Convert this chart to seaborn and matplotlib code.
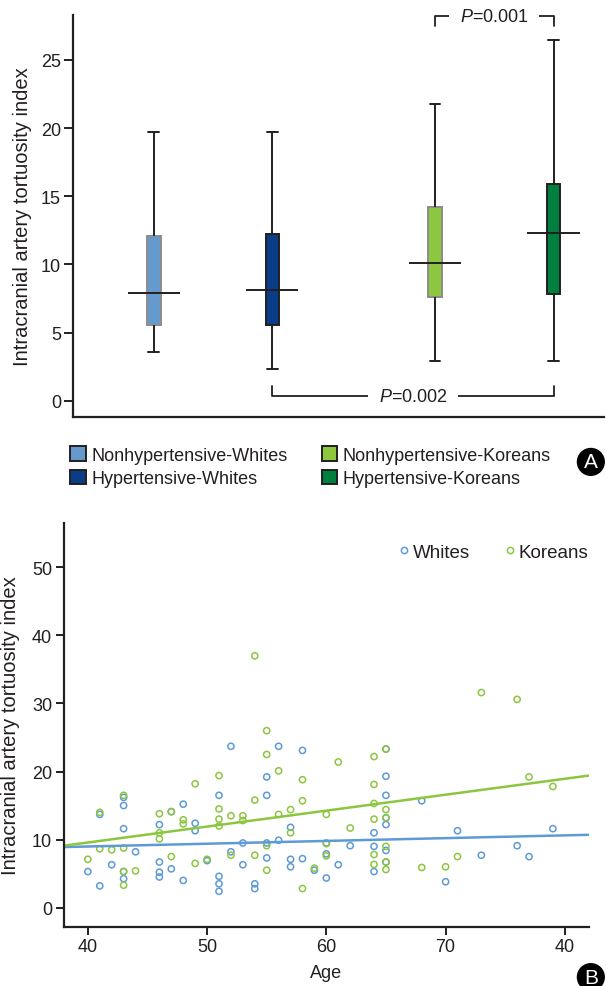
import matplotlib
matplotlib.use("Agg")
import pandas as pd
import seaborn as sns
import matplotlib.pyplot as plt
from matplotlib.patches import Patch
from matplotlib.lines import Line2D

sns.set_style("ticks")
plt.rcParams["font.family"] = ["Liberation Sans", "DejaVu Sans"]
plt.rcParams["mathtext.fontset"] = "custom"
plt.rcParams["mathtext.rm"] = "Liberation Sans"
plt.rcParams["mathtext.it"] = "Liberation Sans:italic"

INK = "#231f20"

# Panel A: box summaries (min, Q1, median, Q3, max)
GROUPS = ["Nonhypertensive-Whites", "Hypertensive-Whites",
          "Nonhypertensive-Koreans", "Hypertensive-Koreans"]
GROUP_POS = [0, 1, 2.37, 3.37]
box_min = [3.6, 2.3, 2.9, 2.9]
box_q1 = [5.55, 5.55, 7.6, 7.8]
box_med = [7.9, 8.1, 10.1, 12.3]
box_q3 = [12.1, 12.2, 14.2, 15.9]
box_max = [19.7, 19.7, 21.8, 26.5]
BOX_COLORS = ["#6699cc", "#0a3d87", "#8dc63f", "#00803e"]
BOX_EDGES = ["#8c8c8c", INK, "#8c8c8c", INK]

# Panel B: age vs tortuosity
whites_age = [40, 41, 41, 42, 43, 43, 43, 43, 43, 44, 46, 46, 46, 46, 47, 47,
              48, 48, 49, 49, 50, 51, 51, 51, 51, 52, 52, 53, 53, 54, 54,
              55, 55, 55, 55, 56, 56, 57, 57, 57, 58, 58, 59, 60, 60, 60,
              61, 62, 64, 64, 64, 65, 65, 65, 65, 65, 65, 65, 68, 70, 71,
              73, 76, 77, 79]
whites_val = [5.3, 13.7, 3.2, 6.3, 16.2, 15.0, 11.6, 5.3, 4.25, 8.2,
              12.2, 6.7, 5.2, 4.5, 14.1, 5.7, 15.2, 4.0, 12.4, 11.3, 6.9,
              16.5, 4.6, 3.5, 2.4, 23.7, 8.2, 9.5, 6.3, 3.5, 2.8,
              19.2, 16.5, 9.5, 7.3, 23.7, 9.9, 11.8, 7.1, 6.0, 23.1, 7.2,
              5.5, 9.5, 7.9, 4.35, 6.3, 9.1, 11.0, 9.0, 5.3,
              23.3, 19.3, 16.5, 13.2, 12.2, 8.4, 6.7, 15.7, 3.8, 11.3,
              7.7, 9.1, 7.5, 11.6]
koreans_age = [40, 41, 41, 42, 43, 43, 43, 43, 44, 46, 46, 46, 47, 47,
               48, 48, 49, 49, 50, 51, 51, 51, 51, 52, 52, 53, 53,
               54, 54, 54, 55, 55, 55, 55, 56, 56, 57, 57, 58, 58, 58, 59,
               60, 60, 60, 61, 62, 64, 64, 64, 64, 64, 64,
               65, 65, 65, 65, 65, 65, 68, 70, 71, 73, 76, 77, 79]
koreans_val = [7.1, 14.0, 8.65, 8.5, 16.5, 8.75, 5.3, 3.3, 5.4,
               13.8, 11.0, 10.1, 14.1, 7.5, 12.9, 12.3, 18.2, 6.5, 7.1,
               19.4, 14.5, 13.0, 12.0, 13.5, 7.7, 13.5, 12.8,
               37.0, 15.8, 7.7, 26.0, 22.5, 9.1, 5.5, 20.1, 13.7, 14.4, 11.0,
               18.8, 15.7, 2.8, 5.8, 13.7, 9.4, 7.6, 21.4, 11.7,
               22.2, 18.1, 15.3, 13.0, 7.8, 6.35,
               23.3, 14.4, 13.2, 9.0, 6.7, 5.6, 5.9, 6.0, 7.5, 31.6, 30.6,
               19.2, 17.8]
fit_age = [38, 82]
whites_fit = [8.9, 10.7]
koreans_fit = [9.1, 19.4]
RACES = ["Whites", "Koreans"]
RACE_COLORS = {"Whites": "#5e9ad6", "Koreans": "#8cc63f"}
AGE_TICKS = [40, 50, 60, 70, 80]
AGE_LABELS = ["40", "50", "60", "70", "40"]

FS = 13
LABEL_FS = 14.5
YLABEL = "Intracranial artery tortuosity index"

fig = plt.figure(figsize=(6.06, 9.87), dpi=100)

# ---------------- Panel A ----------------
ax1 = fig.add_axes([0.12, 0.5765, 0.877, 0.4073])
rows = []
for g, p, lo, q1, md, q3, hi in zip(GROUPS, GROUP_POS, box_min, box_q1,
                                     box_med, box_q3, box_max):
    for v in (lo, q1, md, q3, hi):
        rows.append({"group": g, "pos": p, "tortuosity": v})
box_df = pd.DataFrame(rows)

sns.boxplot(data=box_df, x="pos", y="tortuosity", hue="group",
            hue_order=GROUPS, palette=BOX_COLORS, saturation=1,
            native_scale=True, dodge=False, width=0.114, whis=(0, 100),
            showfliers=False, linecolor=INK, linewidth=1.4, legend=False,
            medianprops={"visible": False}, capwidths=0.09, ax=ax1)
for patch, ec in zip(ax1.patches, BOX_EDGES):
    patch.set_edgecolor(ec)
    patch.set_linewidth(1.4)
for p, md in zip(GROUP_POS, box_med):
    ax1.hlines(md, p - 0.22, p + 0.22, color=INK, lw=1.4, zorder=4)

ax1.set_xlim(-0.683, 3.797)
ax1.set_ylim(-1.2, 28.3)
ax1.set_yticks([0, 5, 10, 15, 20, 25])
ax1.set_xticks([])
ax1.set_xlabel("")
ax1.set_ylabel(YLABEL, fontsize=LABEL_FS, color=INK, labelpad=6)
ax1.tick_params(axis="y", labelsize=FS, length=6.5, width=1.4, pad=2,
                colors=INK)
sns.despine(ax=ax1)
for s in ("left", "bottom"):
    ax1.spines[s].set_linewidth(1.6)
    ax1.spines[s].set_color(INK)
    ax1.spines[s].set_zorder(2.5)

# significance brackets
bk = dict(color=INK, lw=1.3, clip_on=False, zorder=2)
tk = dict(fontsize=FS, ha="center", va="center", color=INK, zorder=2.2,
          bbox=dict(boxstyle="square,pad=0.6", fc="white", ec="none"))
ax1.plot([GROUP_POS[2], GROUP_POS[2], GROUP_POS[3], GROUP_POS[3]],
         [27.5, 28.2, 28.2, 27.5], **bk)
ax1.text((GROUP_POS[2] + GROUP_POS[3]) / 2, 28.2, "$P$=0.001", **tk)
ax1.plot([GROUP_POS[1], GROUP_POS[1], GROUP_POS[3], GROUP_POS[3]],
         [1.1, 0.32, 0.32, 1.1], **bk)
ax1.text((GROUP_POS[1] + GROUP_POS[3]) / 2, 0.32, "$P$=0.002", **tk)

handles = [Patch(facecolor=c, edgecolor=INK, lw=1.4) for c in BOX_COLORS]
fig.legend(handles, GROUPS, ncol=2, loc="center left",
           bbox_to_anchor=(0.116, 0.526), frameon=False, fontsize=13,
           handlelength=0.85, handleheight=0.85, handletextpad=0.3,
           columnspacing=1.9, labelspacing=0.35, borderpad=0,
           borderaxespad=0, labelcolor=INK)

# ---------------- Panel B ----------------
ax2 = fig.add_axes([0.1056, 0.0601, 0.8658, 0.4089])
scatter_df = pd.concat([
    pd.DataFrame({"age": whites_age, "tortuosity": whites_val, "race": "Whites"}),
    pd.DataFrame({"age": koreans_age, "tortuosity": koreans_val, "race": "Koreans"}),
], ignore_index=True)
sns.scatterplot(data=scatter_df, x="age", y="tortuosity", hue="race",
                hue_order=RACES, palette=RACE_COLORS, s=20, linewidth=1.1,
                legend=False, ax=ax2)
for coll in ax2.collections:
    fc = coll.get_facecolors()
    coll.set_edgecolors(fc)
    coll.set_facecolors("none")

sns.lineplot(x=fit_age, y=whites_fit, color=RACE_COLORS["Whites"], lw=1.8, ax=ax2)
sns.lineplot(x=fit_age, y=koreans_fit, color=RACE_COLORS["Koreans"], lw=1.8, ax=ax2)

ax2.set_xlim(38, 82)
ax2.set_ylim(-2.8, 56.5)
ax2.set_xticks(AGE_TICKS)
ax2.set_xticklabels(AGE_LABELS)
ax2.set_yticks([0, 10, 20, 30, 40, 50])
ax2.set_xlabel("Age", fontsize=FS, color=INK, labelpad=6)
ax2.set_ylabel(YLABEL, fontsize=LABEL_FS, color=INK, labelpad=9)
ax2.tick_params(labelsize=FS, length=5.5, width=1.4, pad=3, colors=INK)
sns.despine(ax=ax2)
for s in ("left", "bottom"):
    ax2.spines[s].set_linewidth(1.6)
    ax2.spines[s].set_color(INK)

leg_handles = [Line2D([], [], marker="o", ls="none", mfc="none",
                      mec=RACE_COLORS[r], ms=4.5, mew=1.1) for r in RACES]
ax2.legend(leg_handles, RACES, ncol=2, loc="center right",
           bbox_to_anchor=(1.0, 0.928), frameon=False, fontsize=13.5,
           handlelength=0.4, handletextpad=0.3, columnspacing=1.9,
           borderpad=0, borderaxespad=0, labelcolor=INK)

# panel badges
for label, (bx, by) in {"A": (0.975, 0.531), "B": (0.975, 0.009)}.items():
    fig.text(bx, by, label, color="white", fontsize=15, ha="center",
             va="center",
             bbox=dict(boxstyle="circle,pad=0.22", fc="black", ec="none"))

fig.savefig("out.png", dpi=100)
